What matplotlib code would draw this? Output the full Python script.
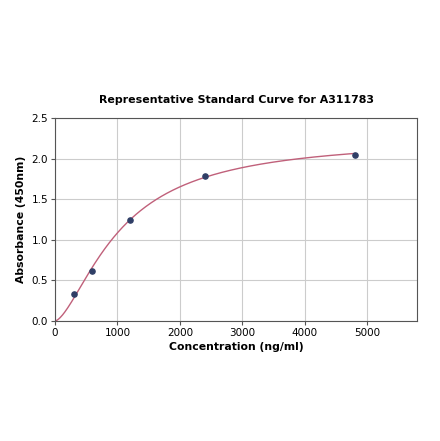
import numpy as np
import matplotlib
matplotlib.use("Agg")
import matplotlib.pyplot as plt

conc = np.array([300, 600, 1200, 2400, 4800])
absorb = np.array([0.33, 0.62, 1.25, 1.79, 2.05])

title = "Representative Standard Curve for A311783"
xlabel = "Concentration (ng/ml)"
ylabel = "Absorbance (450nm)"


def fit_4pl(x, y):
	# bottom fixed at 0, grid over slope and midpoint, top solved by least squares
	best = None
	for b in np.linspace(0.8, 3.0, 111):
		for c in np.linspace(300, 4000, 371):
			f = (x / c) ** b / (1 + (x / c) ** b)
			d = np.dot(f, y) / np.dot(f, f)
			err = np.sum((d * f - y) ** 2)
			if best is None or err < best[0]:
				best = (err, b, c, d)
	return best[1:]


b, c, d = fit_4pl(conc, absorb)
xs = np.linspace(0, conc.max(), 400)
ys = d * (xs / c) ** b / (1 + (xs / c) ** b)

fig = plt.figure(figsize=(4.4, 4.41), dpi=100)
ax = fig.add_axes((55 / 440, 1 - 321 / 441, 362 / 440, 203 / 441))
ax.plot(xs, ys, color="#c0607a", lw=1.0, zorder=2)
ax.scatter(conc, absorb, s=14, color="#2f3e66", zorder=3)
ax.set_xlim(0, 5800)
ax.set_ylim(0, 2.5)
ax.set_xticks([0, 1000, 2000, 3000, 4000, 5000])
ax.set_yticks([0.0, 0.5, 1.0, 1.5, 2.0, 2.5])
ax.grid(True, color="#cccccc", lw=0.8)
ax.set_axisbelow(True)
for s in ax.spines.values():
	s.set_color("#555555")
ax.tick_params(labelsize=7.5, length=3, pad=2, color="#555555")
ax.set_title(title, fontsize=7.9, fontweight="bold", pad=11)
ax.set_xlabel(xlabel, fontsize=7.8, fontweight="bold", labelpad=3)
ax.set_ylabel(ylabel, fontsize=7.8, fontweight="bold", labelpad=4)
fig.savefig("out.png", dpi=100)
